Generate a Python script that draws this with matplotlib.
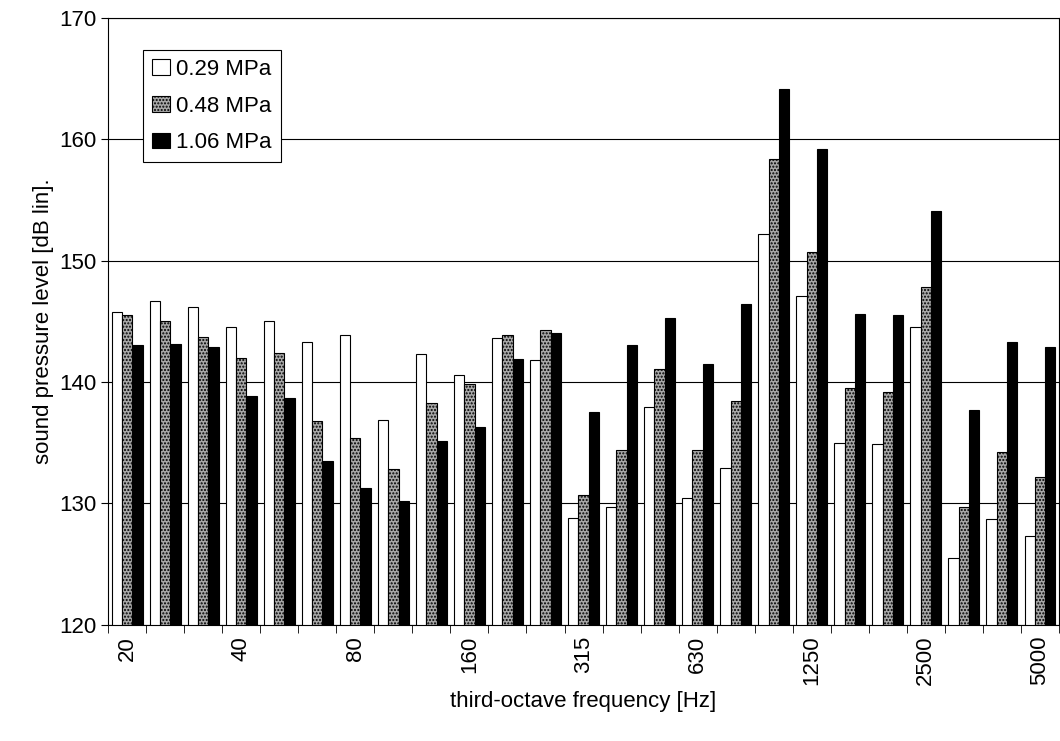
import matplotlib
matplotlib.use("Agg")
import matplotlib.pyplot as plt
import numpy as np

bands = ["20","25","31.5","40","50","63","80","100","125","160","200","250","315","400","500","630","800","1000","1250","1600","2000","2500","3150","4000","5000"]
p029 = [145.8,146.7,146.2,144.5,145.0,143.3,143.9,136.9,142.3,140.6,143.6,141.8,128.8,129.7,137.9,130.4,132.9,152.2,147.1,135.0,134.9,144.5,125.5,128.7,127.3]
p048 = [145.5,145.0,143.7,142.0,142.4,136.8,135.4,132.8,138.3,139.8,143.9,144.3,130.7,134.4,141.1,134.4,138.4,158.4,150.7,139.5,139.2,147.8,129.7,134.2,132.2]
p106 = [143.0,143.1,142.9,138.8,138.7,133.5,131.3,130.2,135.1,136.3,141.9,144.0,137.5,143.0,145.3,141.5,146.4,164.1,159.2,145.6,145.5,154.1,137.7,143.3,142.9]

plt.rcParams['font.family'] = ['Liberation Sans', 'DejaVu Sans']
fig = plt.figure(figsize=(10.6, 7.41), dpi=100)
ax = fig.add_axes([0.102, 0.157, 0.897, 0.819])
x = np.arange(len(bands))
w = 0.27
ax.bar(x - w, np.array(p029) - 120, w, bottom=120, color='white', edgecolor='black', linewidth=0.8, label='0.29 MPa', zorder=3)
ax.bar(x, np.array(p048) - 120, w, bottom=120, color='#a8a8a8', edgecolor='black', linewidth=0.8, hatch='.....', label='0.48 MPa', zorder=3)
ax.bar(x + w, np.array(p106) - 120, w, bottom=120, color='black', edgecolor='black', linewidth=0.8, label='1.06 MPa', zorder=3)
ax.set_xlim(-0.5, len(bands) - 0.5)
ax.set_ylim(120, 170)
ax.set_yticks(range(120, 171, 10))
ax.yaxis.grid(True, color='black', linewidth=0.8, zorder=0)
ax.set_xticks(x[::3])
ax.set_xticklabels(bands[::3], rotation=90, fontsize=16)
ax.set_xticks(np.arange(-0.5, len(bands), 1), minor=True)
ax.tick_params(axis='x', which='major', length=0, pad=8)
ax.tick_params(axis='x', which='minor', length=6, direction='out')
ax.tick_params(axis='y', labelsize=16, direction='out', length=5)
ax.set_xlabel('third-octave frequency [Hz]', fontsize=16)
ax.set_ylabel('sound pressure level [dB lin].', fontsize=16)
leg = ax.legend(loc='upper left', bbox_to_anchor=(0.025, 0.965), fontsize=16, fancybox=False, edgecolor='black', framealpha=1, handlelength=0.8, handletextpad=0.3, borderpad=0.4, labelspacing=0.7)
leg.get_frame().set_linewidth(0.8)
fig.savefig('out.png', dpi=100)
